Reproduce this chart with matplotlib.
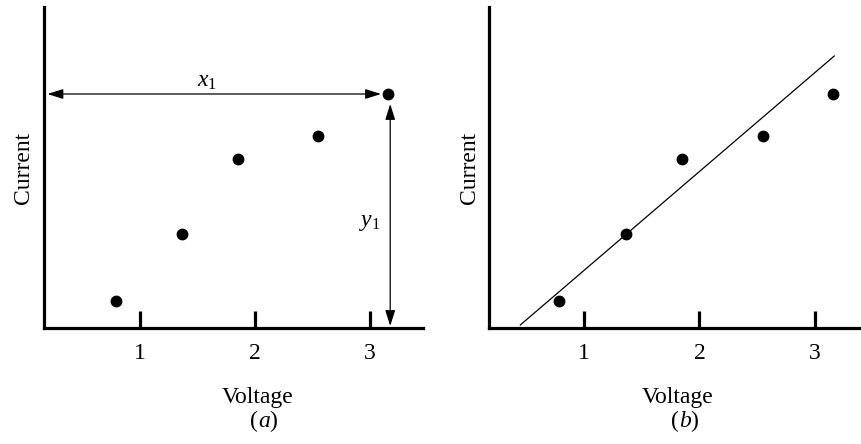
import matplotlib
matplotlib.use("Agg")
import matplotlib.pyplot as plt

plt.rcParams['font.family'] = ['Liberation Serif', 'DejaVu Serif']
plt.rcParams['mathtext.fontset'] = 'custom'
plt.rcParams['mathtext.rm'] = 'Liberation Serif'
plt.rcParams['mathtext.it'] = 'Liberation Serif:italic'

voltage = [0.79, 1.365, 1.85, 2.55, 3.155]
current = [0.27, 0.94, 1.69, 1.92, 2.34]
fit_x = [0.452, 3.166]
fit_y = [0.03, 2.72]
xticks = [1, 2, 3]
xticklabels = ["1", "2", "3"]

FS = 17

fig = plt.figure(figsize=(8.62, 4.44), dpi=100)
bottom = (444 - 328) / 444
top = (444 - 7) / 444
axA = fig.add_axes([44 / 862, bottom, (423 - 44) / 862, top - bottom])
axB = fig.add_axes([489.3 / 862, bottom, (861 - 489.3) / 862, top - bottom])

lims = [(0.165, 3.46), (0.184, 3.397)]
for ax, xl in zip([axA, axB], lims):
    ax.set_xlim(*xl)
    ax.set_ylim(0, 3.21)
    for s in ['top', 'right']:
        ax.spines[s].set_visible(False)
    for s in ['left', 'bottom']:
        ax.spines[s].set_linewidth(2.3)
    ax.set_xticks(xticks)
    ax.set_xticklabels(xticklabels)
    ax.set_yticks([])
    ax.tick_params(axis='x', direction='in', length=12, width=2.3, pad=11, labelsize=FS)
    ax.plot(voltage, current, 'o', color='black', markersize=7.5, clip_on=False)
    ax.set_ylabel('Current', fontsize=FS, labelpad=7)
    ax.patch.set_alpha(0)

axB.plot(fit_x, fit_y, color='black', linewidth=0.9)

# annotation arrows in panel (a)
arrow_style = '<|-|>,head_length=0.95,head_width=0.3'
axA.annotate('', xy=(0.195, current[-1]), xytext=(voltage[-1] - 0.06, current[-1]),
             arrowprops=dict(arrowstyle=arrow_style, color='black', lw=0.9,
                             shrinkA=0, shrinkB=0, mutation_scale=10))
axA.annotate('', xy=(voltage[-1] + 0.02, 0.02), xytext=(voltage[-1] + 0.02, current[-1] - 0.1),
             arrowprops=dict(arrowstyle=arrow_style, color='black', lw=0.9,
                             shrinkA=0, shrinkB=0, mutation_scale=10))
axA.text(1.58, 2.46, r'$x_1$', fontsize=FS, ha='center', va='center')
axA.text(3.0, 1.06, r'$y_1$', fontsize=FS, ha='center', va='center')

# x labels and panel labels in figure pixels
fig.text(257.5 / 862, 1 - 398 / 444, 'Voltage', fontsize=FS, ha='center', va='center')
fig.text(677.7 / 862, 1 - 398 / 444, 'Voltage', fontsize=FS, ha='center', va='center')
fig.text(257.5 / 862, 1 - 421 / 444, '(', fontsize=FS, ha='right', va='center')
fig.text(257.5 / 862, 1 - 421 / 444, r'$a$)', fontsize=FS, ha='left', va='center')
fig.text(679 / 862, 1 - 421 / 444, '(', fontsize=FS, ha='right', va='center')
fig.text(679 / 862, 1 - 421 / 444, r'$b$)', fontsize=FS, ha='left', va='center')

fig.savefig('out.png', dpi=100)
